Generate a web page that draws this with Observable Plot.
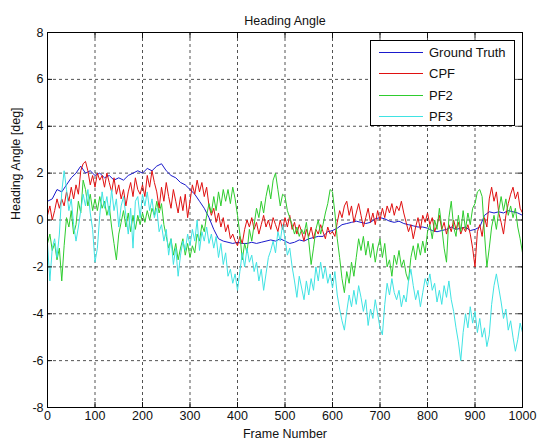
<!DOCTYPE html>
<html><head><meta charset="utf-8">
<script src="https://cdn.jsdelivr.net/npm/d3@7"></script>
<script src="https://cdn.jsdelivr.net/npm/@observablehq/plot@0.6"></script>
<style>
body{margin:0;background:#fff;font-family:"Liberation Sans",Arial,sans-serif;}
#wrap{position:relative;width:537px;height:445px;}
#legend{position:absolute;left:370px;top:40px;width:145px;height:86px;border:1px solid #000;background:#fff;box-sizing:border-box;}
.row{position:absolute;left:0;height:20px;display:flex;align-items:center;font-size:13px;color:#111;}
.sw{width:44px;height:0;border-top:1px solid;margin-left:8px;margin-right:6px;}
</style></head>
<body><div id="wrap"></div>
<script>
const title = "Heading Angle";
const xLabel = "Frame Number";
const yLabel = "Heading Angle [deg]";
const seriesNames = ["Ground Truth", "CPF", "PF2", "PF3"];
const seriesColors = ["#1a1acc", "#e01010", "#2ecc2e", "#3fe3e3"];
const xTicks = [0,100,200,300,400,500,600,700,800,900,1000];
const yTicks = [-8,-6,-4,-2,0,2,4,6,8];

// Ground Truth, every 10 frames
const groundTruthStep = 10;
const groundTruth = [
0.8,0.9,1.3,1.2,1.5,1.8,2.0,2.3,2.0,2.1,
1.9,2.0,1.8,1.9,1.7,1.8,1.7,1.9,2.0,2.1,
2.0,2.2,2.1,2.3,2.4,2.1,1.9,1.8,1.6,1.5,
1.3,1.1,0.8,0.5,0.1,-0.4,-0.8,-0.9,-0.95,-1.0,
-0.95,-1.0,-1.0,-0.95,-1.0,-0.95,-0.9,-0.85,-0.9,-0.8,
-0.9,-1.0,-0.95,-0.85,-0.9,-0.8,-0.75,-0.7,-0.7,-0.5,
-0.45,-0.35,-0.2,-0.15,-0.1,-0.05,-0.1,-0.15,-0.1,0.05,
0.1,0.05,-0.05,-0.1,-0.05,-0.15,-0.2,-0.25,-0.3,-0.3,
-0.35,-0.45,-0.5,-0.45,-0.4,-0.3,-0.4,-0.35,-0.3,-0.45,
-0.4,-0.3,0.2,0.35,0.3,0.35,0.3,0.4,0.35,0.3,0.2
];

// CPF, PF2, PF3, every 5 frames
const noisyStep = 5;
const cpf = [
0.2,0.6,0.0,0.4,0.9,0.5,0.9,0.6,1.2,0.8,1.4,0.9,1.5,1.1,2.1,2.4,2.5,2.1,1.5,1.9,
1.4,2.0,1.7,1.9,1.4,2.0,1.6,1.2,1.8,1.1,1.5,0.9,1.3,0.6,1.2,1.6,1.0,1.8,1.3,1.1,
1.5,1.0,1.9,1.4,2.1,1.6,1.2,0.5,1.4,0.8,1.6,1.0,0.5,1.3,0.8,0.3,1.0,0.4,1.1,0.1,
0.8,1.5,1.1,1.7,1.2,1.6,1.0,1.4,0.6,0.2,0.5,-0.1,0.3,-0.3,0.1,-0.5,-0.2,-0.8,-0.6,-0.9,
-1.1,-0.7,-1.0,-0.4,0.0,-0.3,0.1,-0.4,-0.1,-0.6,-0.2,0.2,-0.3,0.0,-0.4,0.1,-0.2,-0.5,0.0,-0.4,
0.1,-0.3,0.2,-0.4,-0.1,-0.6,-0.2,-0.5,-0.9,-0.4,-0.7,-0.3,-0.8,-0.4,-0.6,-0.2,-0.5,-0.8,-0.3,-0.6,
-0.5,-0.7,-0.1,0.4,0.1,0.6,0.8,0.2,0.6,-0.1,0.3,0.7,0.2,-0.3,0.1,0.5,-0.1,0.3,-0.2,0.4,
0.0,0.5,0.1,0.6,0.3,0.7,0.2,0.6,0.4,0.8,0.3,-0.1,-0.5,-0.2,-0.8,-0.3,0.1,-0.4,0.2,-0.1,
0.3,-0.2,0.1,-0.5,-0.2,0.2,-0.4,-0.1,-0.6,-0.2,-0.5,0.0,-0.4,-0.1,-0.6,-0.3,-0.5,-0.2,-0.6,-1.2,
-2.0,-0.5,-0.2,-0.7,0.1,-0.3,0.9,1.4,0.8,1.2,0.3,-0.1,-0.6,0.2,0.7,1.1,1.4,0.9,1.2,0.5,0.3
];
const pf2 = [
-1.0,-0.6,-1.3,-1.0,-1.7,-1.2,-2.6,-1.1,0.1,-0.3,0.4,-0.6,-0.2,0.8,0.3,1.7,1.3,0.6,1.1,0.4,
0.9,0.4,1.0,0.5,0.8,0.2,0.6,-0.3,-1.0,-1.7,-0.6,-0.1,0.4,-0.3,0.3,-0.5,0.2,-0.4,0.2,-0.2,
0.3,-0.1,0.4,0.0,0.5,0.2,0.8,0.3,0.7,-0.2,-0.7,-1.2,-0.8,-1.5,-1.0,-1.7,-1.2,-0.8,-1.5,-1.0,
-1.6,-1.1,-1.4,-0.6,-0.9,-0.2,-0.5,0.2,0.7,0.3,1.0,0.4,1.2,0.6,1.3,0.8,1.3,0.7,1.4,0.9,
0.2,-0.6,-1.7,-1.0,-1.4,-0.4,-0.9,-0.2,0.5,0.1,0.8,0.3,1.0,1.5,0.9,1.7,2.0,1.3,0.6,1.1,
1.0,0.4,0.1,-0.2,-0.6,-0.3,-0.7,-0.4,-0.6,-0.1,-0.9,-1.9,-1.2,-0.4,0.0,-0.6,-0.2,0.3,0.7,1.3,
1.2,0.3,-0.8,-1.6,-2.5,-3.1,-2.2,-2.7,-1.8,-2.4,-1.6,-0.8,-1.3,-0.7,-1.5,-0.9,-1.6,-1.0,-1.8,-1.2,
-0.8,-1.6,-1.0,-2.0,-1.7,-2.4,-1.5,-1.9,-1.3,-2.0,-1.7,-2.3,-2.6,-1.6,-1.1,-1.7,-1.0,-1.5,-0.9,-1.4,
-0.5,-0.2,-0.8,0.0,-0.4,0.5,-0.3,-1.2,-1.8,0.1,0.8,-0.3,-0.7,0.2,-0.5,0.4,-0.4,0.3,-0.2,0.5,
0.7,1.2,1.3,1.0,-0.6,-2.0,-1.2,-0.3,0.2,-0.4,0.4,1.0,0.4,0.9,0.2,0.6,0.1,0.5,-0.3,-0.8,-1.4
];
const pf3 = [
-1.0,-2.6,-1.2,-0.8,-1.6,-0.6,1.2,2.1,1.3,0.4,0.9,-0.2,-0.9,-0.3,0.4,1.1,0.6,1.3,0.3,-0.4,
-1.8,-1.2,0.2,1.2,0.5,1.0,0.2,1.3,0.4,0.9,-0.3,0.6,1.0,0.2,-0.6,0.5,-1.2,0.8,1.0,0.1,
1.1,0.6,1.2,0.4,0.9,0.1,0.5,-0.5,-0.2,-0.9,-0.4,-1.5,-0.8,-1.9,-1.2,-2.4,-1.5,-0.9,-1.3,-0.6,
-1.1,-0.4,-0.9,0.0,-1.3,-0.5,-0.9,-0.3,-1.0,-0.6,-1.2,-0.7,-1.6,-1.0,-1.9,-1.4,-2.4,-2.1,-2.7,-2.3,
-3.0,-2.2,-1.4,-2.0,-1.2,-1.8,-1.5,-2.2,-1.8,-2.6,-2.1,-3.0,-2.3,-1.6,-1.3,-0.9,-1.4,-0.5,-0.9,-0.2,
-0.8,-1.5,-1.2,-2.0,-2.6,-3.3,-2.4,-2.9,-3.4,-2.6,-3.2,-2.5,-3.0,-2.0,-2.6,-1.8,-2.5,-2.0,-2.7,-2.3,
-2.9,-2.2,-3.2,-3.8,-4.3,-4.7,-3.9,-3.2,-3.7,-3.0,-3.6,-2.8,-3.3,-3.9,-3.4,-4.5,-3.8,-4.2,-3.4,-4.0,
-4.6,-4.9,-3.6,-2.7,-3.2,-2.5,-3.1,-3.4,-3.0,-3.7,-3.2,-3.5,-2.6,-2.1,-2.8,-3.4,-3.0,-3.7,-3.1,-2.5,
-2.8,-2.3,-3.0,-2.7,-3.5,-3.0,-3.6,-2.8,-3.3,-2.6,-3.4,-3.9,-4.6,-5.2,-6.0,-4.8,-4.0,-4.6,-3.7,-4.4,
-3.9,-4.8,-4.2,-5.0,-4.6,-5.4,-4.9,-3.6,-2.8,-2.3,-2.9,-3.5,-4.2,-3.8,-4.7,-4.3,-5.0,-5.6,-5.1,-4.4,-4.8
];

const toRows = (arr, step, name) => arr.map((v, i) => ({frame: i * step, value: v, series: name}));
const rows = [
  ...toRows(groundTruth, groundTruthStep, seriesNames[0]),
  ...toRows(cpf, noisyStep, seriesNames[1]),
  ...toRows(pf2, noisyStep, seriesNames[2]),
  ...toRows(pf3, noisyStep, seriesNames[3])
];

const font = '"Liberation Sans", Arial, sans-serif';
const blank = () => "";
const chart = Plot.plot({
  width: 537, height: 445,
  marginLeft: 47, marginRight: 15, marginTop: 32, marginBottom: 38,
  style: {fontFamily: font, fontSize: "12.5px", color: "#111", background: "#fff", overflow: "visible"},
  x: {domain: [0, 1000], ticks: xTicks},
  y: {domain: [-8, 8], ticks: yTicks},
  color: {domain: seriesNames, range: seriesColors},
  marks: [
    Plot.gridX(xTicks, {stroke: "#000", strokeOpacity: 0.85, strokeDasharray: "3,3", strokeWidth: 0.8}),
    Plot.gridY(yTicks, {stroke: "#000", strokeOpacity: 0.85, strokeDasharray: "3,3", strokeWidth: 0.8}),
    ...seriesNames.map(n => Plot.lineY(rows.filter(d => d.series === n), {x: "frame", y: "value", stroke: "series", strokeWidth: 1})),
    Plot.axisX({anchor: "bottom", ticks: xTicks, tickSize: -5, tickPadding: 9, label: null, tickFormat: d => String(d), fontSize: 12.5}),
    Plot.axisX({anchor: "top", ticks: xTicks, tickSize: -5, tickFormat: blank, label: null}),
    Plot.axisY({anchor: "left", ticks: yTicks, tickSize: -5, tickPadding: 9, label: null, tickFormat: d => String(d), fontSize: 12.5}),
    Plot.axisY({anchor: "right", ticks: yTicks, tickSize: -5, tickFormat: blank, label: null}),
    Plot.frame({stroke: "#000", strokeWidth: 1}),
    Plot.text([title], {frameAnchor: "top", dy: -16, fontSize: 12.5, fill: "#111"}),
    Plot.text([xLabel], {frameAnchor: "bottom", dy: 30, fontSize: 12.5, fill: "#111"}),
    Plot.text([yLabel], {frameAnchor: "left", dx: -32, rotate: -90, fontSize: 12.5, fill: "#111"})
  ]
});
const wrap = document.getElementById("wrap");
wrap.appendChild(chart);

const legend = document.createElement("div");
legend.id = "legend";
seriesNames.forEach((n, i) => {
  const r = document.createElement("div");
  r.className = "row";
  r.style.top = (1 + i * 21.5) + "px";
  const sw = document.createElement("span");
  sw.className = "sw";
  sw.style.borderTopColor = seriesColors[i];
  const t = document.createElement("span");
  t.textContent = n;
  r.appendChild(sw); r.appendChild(t);
  legend.appendChild(r);
});
wrap.appendChild(legend);
</script>
</body></html>
